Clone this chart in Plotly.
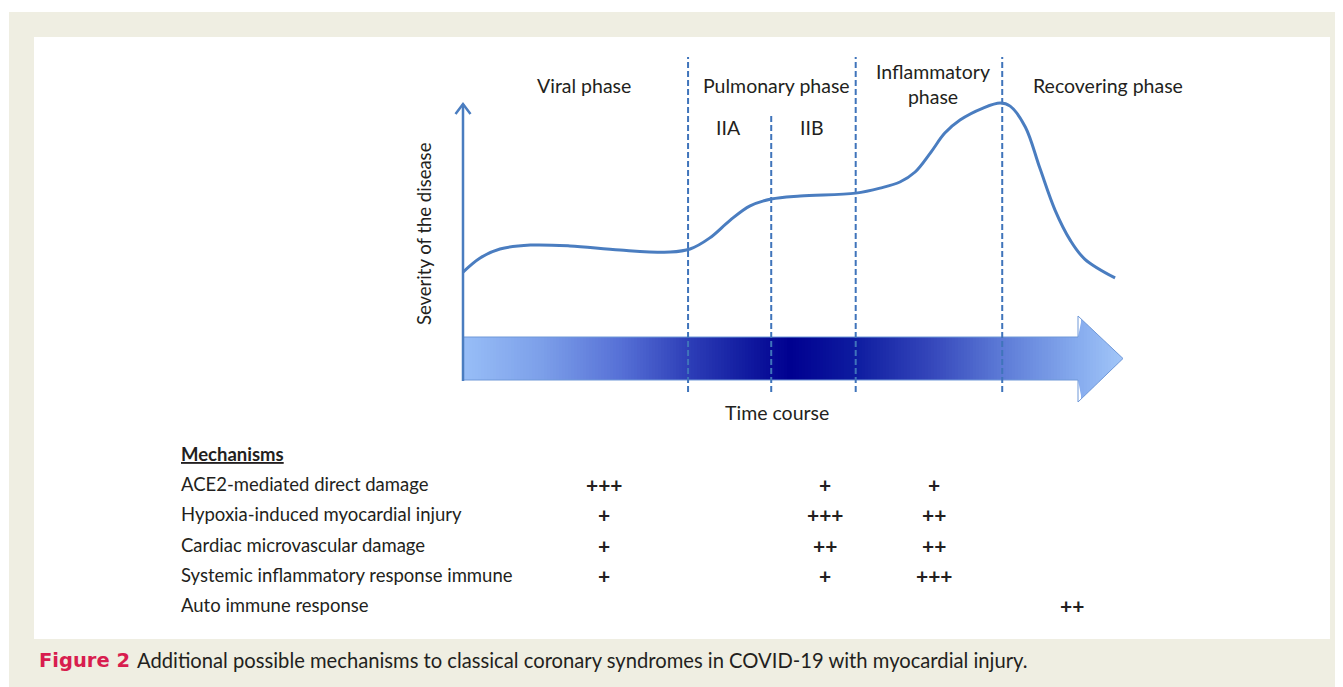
import plotly.graph_objects as go

# ---------------- data ----------------
time = [0, 2.6, 5.6, 10.2, 16.2, 23.8, 31.4, 34.4, 37.4, 40.5, 43.5, 46.7, 51.1,
        59.5, 63.2, 66.2, 68.5, 70.8, 73.0, 75.3, 78.8, 81.4, 82.9, 85.2, 87.4, 89.7,
        92.0, 94.2, 98.8]
severity = [3.81, 4.32, 4.64, 4.78, 4.75, 4.60, 4.53, 4.64, 5.04, 5.68, 6.19, 6.44, 6.55,
            6.65, 6.83, 7.05, 7.41, 8.09, 8.81, 9.28, 9.71, 9.89, 9.78, 9.03, 7.55, 6.04,
            4.96, 4.28, 3.60]

phase_bounds = [34.1, 46.7, 59.5, 81.7]
phase_sub = [False, True, False, False]

phase_labels = ["Viral phase", "Pulmonary phase", "Inflammatory<br>phase", "Recovering phase"]
sub_labels = ["IIA", "IIB"]

mechanisms = ["ACE2-mediated direct damage",
              "Hypoxia-induced myocardial injury",
              "Cardiac microvascular damage",
              "Systemic inflammatory response immune",
              "Auto immune response"]
score_viral = [3, 1, 1, 1, 0]
score_pulmonary = [1, 3, 2, 1, 0]
score_inflammatory = [1, 2, 2, 3, 0]
score_recovering = [0, 0, 0, 0, 2]

y_title = "Severity of the disease"
x_title = "Time course"
caption_tag = "Figure 2"
caption_text = "Additional possible mechanisms to classical coronary syndromes in COVID-19 with myocardial injury."

# ---------------- style / layout constants ----------------
VW, VH = 1343, 687                  # viewport
OFF = 8                             # page body margin
W, H = VW - OFF, VH - OFF
T0_PX, PX_PER_T = 463, 6.6          # time axis scale (screen px)
S0_PX, PX_PER_S = 378, 27.8         # severity axis scale (screen px)
X2_DOM_PX = (455, 1130)
Y2_DOM_PX = (50, 410)

LINE_BLUE = "#4a7dc0"
DASH_BLUE = "#3f74bb"
TXT = "#231f20"
FONT = "Lato"

fig = go.Figure()

fig.update_layout(
    width=W, height=H, margin=dict(l=0, r=0, t=0, b=0),
    paper_bgcolor="white", plot_bgcolor="rgba(0,0,0,0)",
    showlegend=False,
    xaxis=dict(range=[OFF, OFF + W], domain=[0, 1], visible=False, fixedrange=True),
    yaxis=dict(range=[OFF + H, OFF], domain=[0, 1], visible=False, fixedrange=True),
    xaxis2=dict(domain=[(X2_DOM_PX[0] - OFF) / W, (X2_DOM_PX[1] - OFF) / W],
                range=[(X2_DOM_PX[0] - T0_PX) / PX_PER_T, (X2_DOM_PX[1] - T0_PX) / PX_PER_T],
                anchor="y2", visible=False, fixedrange=True),
    yaxis2=dict(domain=[1 - (Y2_DOM_PX[1] - OFF) / H, 1 - (Y2_DOM_PX[0] - OFF) / H],
                range=[(S0_PX - Y2_DOM_PX[1]) / PX_PER_S, (S0_PX - Y2_DOM_PX[0]) / PX_PER_S],
                anchor="x2", visible=False, fixedrange=True),
)
fig.add_trace(go.Scatter(x=[OFF], y=[OFF], mode="markers", marker=dict(opacity=0),
                         hoverinfo="skip", xaxis="x", yaxis="y"))

shapes = []
shapes.append(dict(type="rect", xref="x", yref="y", x0=9, y0=12, x1=VW, y1=VH,
                   fillcolor="#efeee2", line=dict(width=0), layer="below"))
shapes.append(dict(type="rect", xref="x", yref="y", x0=34, y0=37, x1=1330, y1=639,
                   fillcolor="white", line=dict(width=0), layer="below"))

# gradient time-course arrow (thin strips)
AX0, AX_HEAD, AX_TIP = 463, 1078, 1123
BODY_T, BODY_B = 337, 380
HEAD_T, HEAD_B, TIP_Y = 316, 402, 358.5
stops = [(0.00, (0x98, 0xbe, 0xf7)), (0.12, (0x7c, 0x9f, 0xe9)), (0.24, (0x56, 0x70, 0xd6)),
         (0.34, (0x2e, 0x3f, 0xb8)), (0.42, (0x14, 0x1f, 0xa2)), (0.495, (0x00, 0x00, 0x90)),
         (0.595, (0x0e, 0x1c, 0xa0)), (0.71, (0x35, 0x47, 0xbb)), (0.815, (0x5c, 0x7a, 0xd6)),
         (0.93, (0x86, 0xab, 0xee)), (1.00, (0xa2, 0xc6, 0xf8))]


def grad(f):
    for (fa, ca), (fb, cb) in zip(stops[:-1], stops[1:]):
        if fa <= f <= fb:
            u = (f - fa) / (fb - fa)
            c = [round(a + (b - a) * u) for a, b in zip(ca, cb)]
            return "rgb(%d,%d,%d)" % tuple(c)
    return "rgb(%d,%d,%d)" % stops[-1][1]


def edge(x):
    if x <= AX_HEAD:
        return BODY_T, BODY_B
    u = (x - AX_HEAD) / (AX_TIP - AX_HEAD)
    return HEAD_T + (TIP_Y - HEAD_T) * u, HEAD_B - (HEAD_B - TIP_Y) * u


step = 3
xs = sorted(set(list(range(AX0, AX_HEAD, step)) + [AX_HEAD] +
                list(range(AX_HEAD + step, AX_TIP, step)) + [AX_TIP]))
for xa, xb in zip(xs[:-1], xs[1:]):
    xb2 = min(xb + 0.6, AX_TIP) if xb != AX_HEAD else xb
    ta, ba = edge(xa)
    tb, bb = edge(xb2)
    col = grad(((xa + xb) / 2 - AX0) / (AX_TIP - AX0))
    path = "M %.2f %.2f L %.2f %.2f L %.2f %.2f L %.2f %.2f Z" % (xa, ta, xb2, tb, xb2, bb, xa, ba)
    shapes.append(dict(type="path", xref="x", yref="y", path=path, fillcolor=col,
                       line=dict(width=0), layer="below"))
outline = ("M %d %d L %d %d L %d %d L %d %.1f L %d %d L %d %d L %d %d Z" %
           (AX0, BODY_T, AX_HEAD, BODY_T, AX_HEAD, HEAD_T, AX_TIP, TIP_Y, AX_HEAD, HEAD_B,
            AX_HEAD, BODY_B, AX0, BODY_B))
shapes.append(dict(type="path", xref="x", yref="y", path=outline, fillcolor="rgba(0,0,0,0)",
                   line=dict(color="#6f98d8", width=1), layer="below"))

# vertical severity axis arrow
shapes.append(dict(type="line", xref="x", yref="y", x0=463, y0=381, x1=463, y1=104,
                   line=dict(color=LINE_BLUE, width=2.5), layer="below"))
shapes.append(dict(type="path", xref="x", yref="y", path="M 455.5 114 L 463 104 L 470.5 114",
                   line=dict(color=LINE_BLUE, width=2.5), layer="below"))
fig.update_layout(shapes=shapes)

# dashed phase boundaries
for tb, sub in zip(phase_bounds, phase_sub):
    top = (S0_PX - (115 if sub else 57)) / PX_PER_S
    bot = (S0_PX - 392) / PX_PER_S
    fig.add_trace(go.Scatter(x=[tb, tb], y=[bot, top], mode="lines", xaxis="x2", yaxis="y2",
                             line=dict(color=DASH_BLUE, width=2, dash="6px,3px"),
                             hoverinfo="skip"))

# severity curve
fig.add_trace(go.Scatter(x=time, y=severity, mode="lines", xaxis="x2", yaxis="y2",
                         line=dict(color=LINE_BLUE, width=3, shape="spline", smoothing=1.0),
                         hoverinfo="skip"))

ann = []


def text(x, y, s, size=17, xanchor="center", color=TXT, family=FONT, angle=0):
    ann.append(dict(x=x, y=y, xref="x", yref="y", text=s, showarrow=False,
                    xanchor=xanchor, yanchor="middle", textangle=angle,
                    font=dict(family=family, size=size, color=color)))


phase_pos = [(584, 85), (776, 85), (933, 84), (1108, 85)]
for lab, (px, py) in zip(phase_labels, phase_pos):
    text(px, py, lab, size=19.5)
for lab, px in zip(sub_labels, [728, 812]):
    text(px, 127, lab, size=19.5)

text(424, 234, y_title, size=18.5, angle=-90)
text(777, 412, x_title, size=19.5)

# mechanisms table
TS = 18.5
text(179, 454, "<b><u>Mechanisms</u></b>", size=TS, xanchor="left")
row_y = [484, 514, 545, 575, 605]
col_x = [604, 825, 934, 1072]
for i, m in enumerate(mechanisms):
    text(179, row_y[i], m, size=TS, xanchor="left")
    for cx, col in zip(col_x, [score_viral, score_pulmonary, score_inflammatory, score_recovering]):
        if col[i] > 0:
            text(cx, row_y[i], "<b>" + "+" * col[i] + "</b>", size=21)

# caption
text(37, 660, "<b>" + caption_tag + "</b>", size=19.5, xanchor="left", color="#d81d4f",
     family="DejaVu Sans")
text(135, 660, caption_text, size=20.2, xanchor="left", color=TXT)

fig.update_layout(annotations=ann)
fig.write_html("out.html")
